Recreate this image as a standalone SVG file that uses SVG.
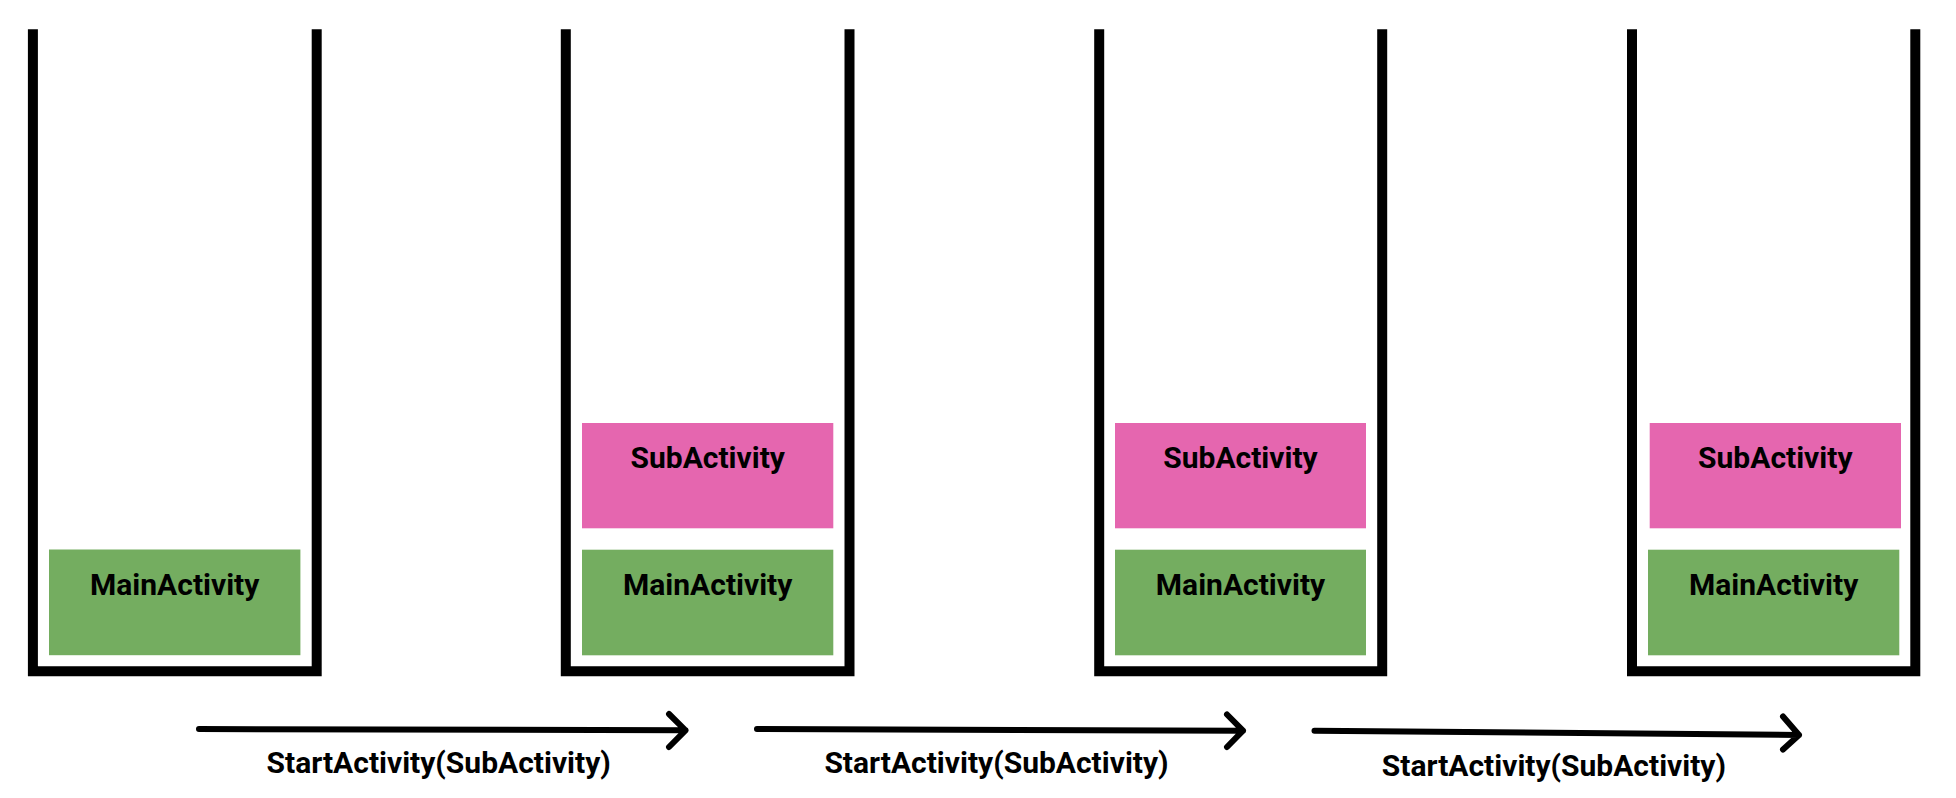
<svg xmlns="http://www.w3.org/2000/svg" width="1956" height="798" viewBox="0 0 1956 798">
<style>
.stack{fill:none;stroke:#000;stroke-width:10;stroke-linejoin:miter;stroke-linecap:butt}
.main{fill:#74AD60}
.sub{fill:#E566AF}
.lbl{font-family:Roboto,"Liberation Sans",sans-serif;font-weight:700;font-size:30px;fill:#000;text-anchor:middle}
.arr{fill:none;stroke:#000;stroke-width:6;stroke-linecap:round;stroke-linejoin:round}
</style>
<rect width="1956" height="798" fill="#fff"/>
<g id="stack1">
<path class="stack" d="M32.9,29.3 V671.3 H316.7 V29.3"/>
<g id="stack1-main"><rect class="main" x="49" y="549.5" width="251.4" height="105.7"/><text class="lbl" x="174.7" y="595">MainActivity</text></g>
</g>
<g id="stack2">
<path class="stack" d="M565.8,29.3 V671.3 H849.5 V29.3"/>
<g id="stack2-sub"><rect class="sub" x="582" y="423" width="251.3" height="105.3"/><text class="lbl" x="707.7" y="468.3">SubActivity</text></g>
<g id="stack2-main"><rect class="main" x="582" y="549.7" width="251.3" height="105.6"/><text class="lbl" x="707.7" y="595">MainActivity</text></g>
</g>
<g id="stack3">
<path class="stack" d="M1099.2,29.3 V671.3 H1382.2 V29.3"/>
<g id="stack3-sub"><rect class="sub" x="1115" y="423" width="251" height="105.3"/><text class="lbl" x="1240.5" y="468.3">SubActivity</text></g>
<g id="stack3-main"><rect class="main" x="1115" y="549.7" width="251" height="105.6"/><text class="lbl" x="1240.5" y="595">MainActivity</text></g>
</g>
<g id="stack4">
<path class="stack" d="M1632,29.3 V671.3 H1915.3 V29.3"/>
<g id="stack4-sub"><rect class="sub" x="1649.7" y="423" width="251.3" height="105.3"/><text class="lbl" x="1775.3" y="468.3">SubActivity</text></g>
<g id="stack4-main"><rect class="main" x="1648" y="549.7" width="251.3" height="105.6"/><text class="lbl" x="1773.6" y="595">MainActivity</text></g>
</g>
<g id="connectors">
<path class="arr" d="M199,729 L685.5,730.3 M669,714 L685.5,730.3 L669,747"/>
<text class="lbl" x="438.7" y="773.3">StartActivity(SubActivity)</text>
<path class="arr" d="M757,729 L1243,730.7 M1227,714.5 L1243,730.7 L1227,747"/>
<text class="lbl" x="996.5" y="773.3">StartActivity(SubActivity)</text>
<path class="arr" d="M1314.5,730.7 L1799,735 M1783,716.5 L1799,735 L1783,749.5"/>
<text class="lbl" x="1553.9" y="776">StartActivity(SubActivity)</text>
</g>
</svg>
